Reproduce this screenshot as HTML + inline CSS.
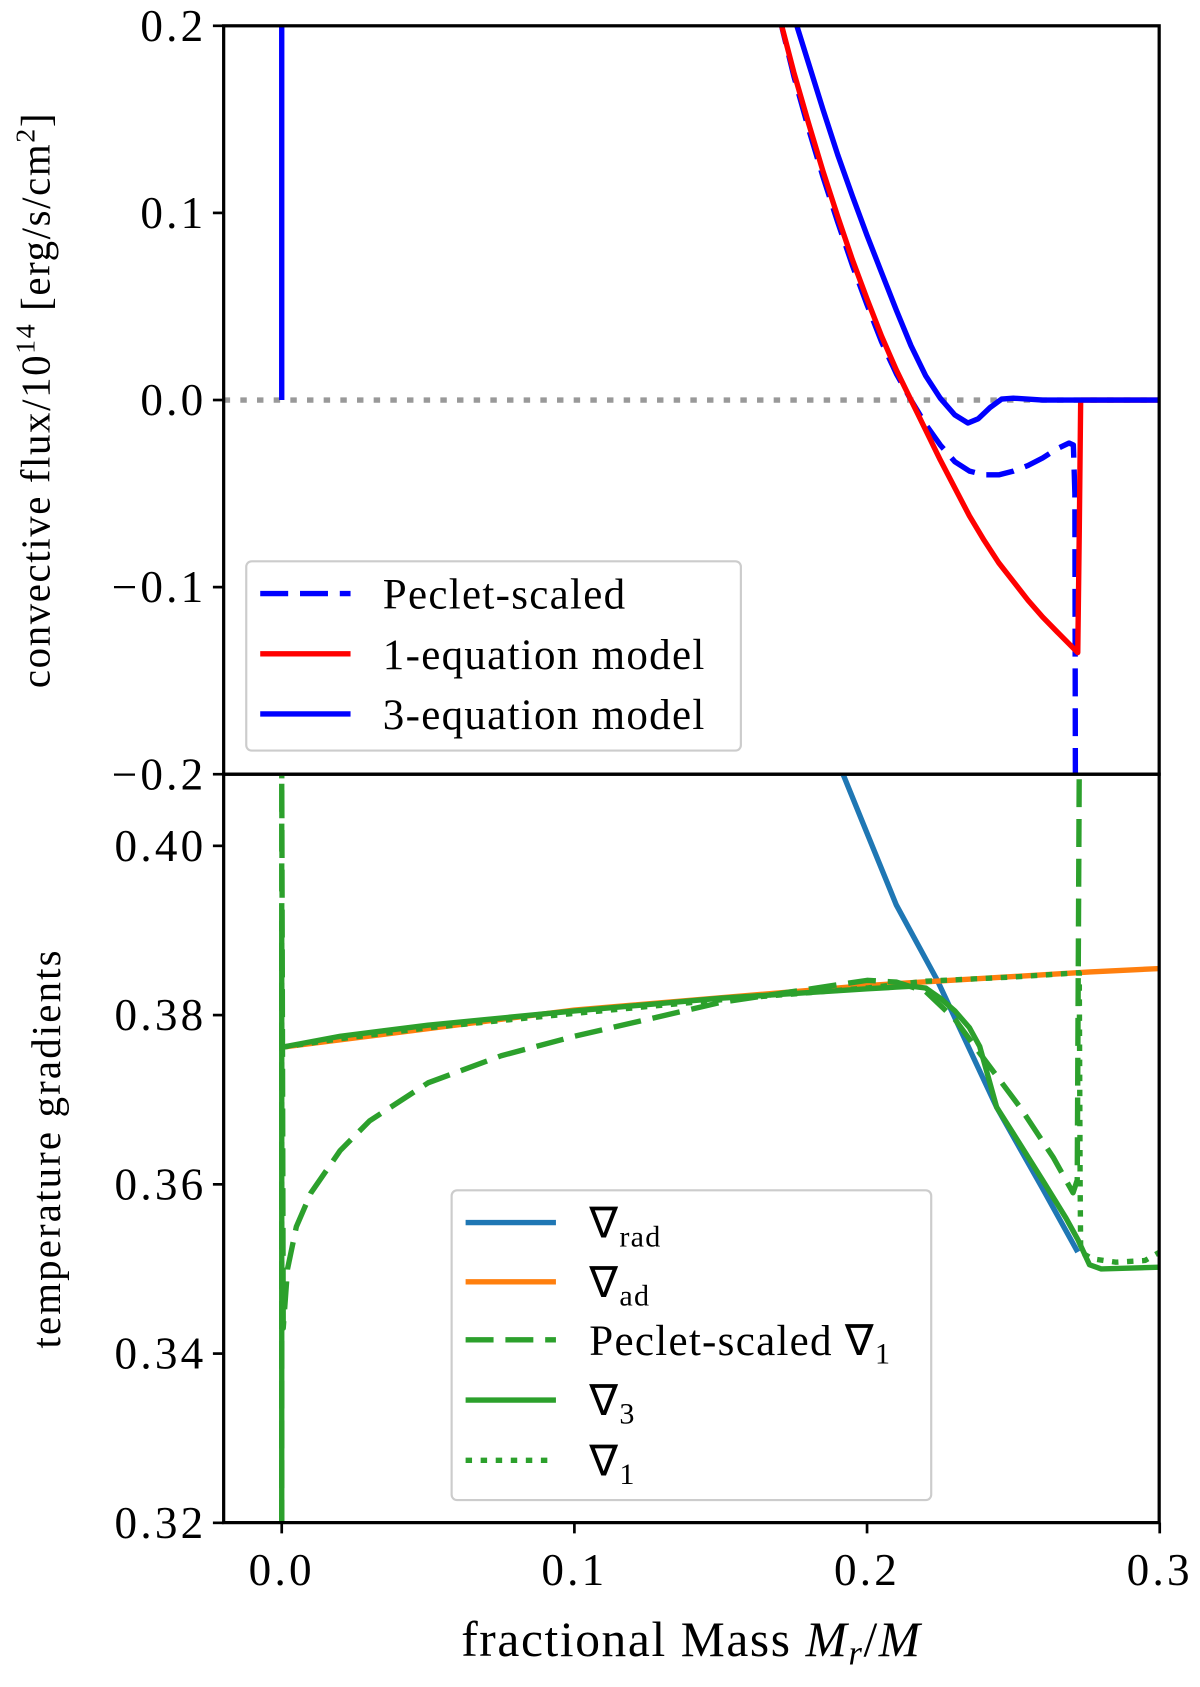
<!DOCTYPE html>
<html><head><meta charset="utf-8"><style>
body{margin:0;background:#fff;width:1200px;height:1687px;overflow:hidden}
#wrap{position:relative;width:1116px;height:1569px;transform:scale(1.0753);transform-origin:0 0}
svg text{font-family:"Liberation Serif",serif;fill:#000}
</style></head><body>
<div id="wrap">
<svg id="chart" width="1116" height="1569" xmlns="http://www.w3.org/2000/svg" style="position:absolute;left:0;top:0">
<defs>
<clipPath id="clipTop"><rect x="208" y="24" width="870" height="696"/></clipPath>
<clipPath id="clipBot"><rect x="208" y="720" width="870" height="696"/></clipPath>
</defs>
<g id="topPanel"></g>
<g id="botPanel"></g>
</svg>
<script>
// ---- data ----
const xTicks=[0.0,0.1,0.2,0.3];
const xTickLabels=["0.0","0.1","0.2","0.3"];
const topTicks=[0.2,0.1,0.0,-0.1,-0.2];
const topTickLabels=["0.2","0.1","0.0","\u22120.1","\u22120.2"];
const botTicks=[0.40,0.38,0.36,0.34,0.32];
const botTickLabels=["0.40","0.38","0.36","0.34","0.32"];
// top panel series
const oneEqX=[0.17,0.175,0.18,0.185,0.19,0.195,0.2,0.205,0.21,0.215,0.22,0.225,0.23,0.235,0.24,0.245,0.25,0.255,0.26,0.265,0.272,0.2725,0.273,0.28,0.3];
const oneEqY=[0.205,0.175,0.148,0.122,0.098,0.075,0.054,0.034,0.016,0.0,-0.016,-0.032,-0.047,-0.062,-0.075,-0.087,-0.097,-0.107,-0.116,-0.124,-0.135,-0.07,0.0,0.0,0.0];
const threeEqSpikeX=[0.0,0.0];
const threeEqSpikeY=[0.25,0.0];
const threeEqX=[0.174,0.18,0.185,0.19,0.195,0.2,0.205,0.21,0.215,0.22,0.225,0.23,0.2345,0.238,0.242,0.246,0.25,0.26,0.3];
const threeEqY=[0.21,0.18,0.155,0.131,0.109,0.088,0.068,0.048,0.029,0.013,0.001,-0.008,-0.0123,-0.01,-0.004,0.0005,0.001,0.0,0.0];
const pecletX=[0.17,0.175,0.18,0.185,0.19,0.195,0.2,0.205,0.21,0.215,0.22,0.225,0.23,0.235,0.24,0.245,0.25,0.255,0.26,0.265,0.269,0.2705,0.271,0.2712];
const pecletY=[0.205,0.173,0.145,0.119,0.095,0.072,0.051,0.031,0.014,0.0,-0.013,-0.024,-0.033,-0.038,-0.040,-0.040,-0.038,-0.035,-0.031,-0.026,-0.023,-0.024,-0.05,-0.21];
// bottom panel series
const radX=[0.190,0.2,0.21,0.224,0.2443,0.26,0.272];
const radY=[0.410,0.4015,0.393,0.3841,0.3691,0.3595,0.352];
const adX=[0.0,0.1,0.2,0.2137,0.2762,0.3];
const adY=[0.3762,0.3806,0.3835,0.3838,0.3851,0.3855];
const pec1X=[0.0,0.0,0.0005,0.002,0.005,0.01,0.02,0.03,0.05,0.075,0.1,0.15,0.2,0.21,0.22,0.23,0.2385,0.2523,0.2636,0.2704,0.2718,0.2725];
const pec1Y=[0.31,0.41,0.343,0.350,0.355,0.359,0.364,0.3675,0.372,0.3752,0.3775,0.3815,0.3841,0.3839,0.3828,0.3795,0.3755,0.3691,0.3632,0.359,0.3605,0.41];
const nab3X=[0.0,0.0,0.0,0.02,0.05,0.1,0.15,0.2,0.21,0.215,0.22,0.225,0.23,0.235,0.2385,0.2443,0.25,0.26,0.268,0.272,0.276,0.28,0.3];
const nab3Y=[0.31,0.391,0.3762,0.3775,0.3788,0.3805,0.382,0.3831,0.3833,0.3834,0.3832,0.382,0.3805,0.3785,0.3763,0.3691,0.366,0.3605,0.356,0.3535,0.3505,0.3500,0.3502];
const nab1X=[0.0,0.02,0.05,0.1,0.15,0.2,0.21,0.22,0.25,0.2725,0.2728,0.273,0.277,0.285,0.295,0.3];
const nab1Y=[0.3762,0.3772,0.3785,0.3802,0.3818,0.3832,0.3836,0.3840,0.3845,0.3850,0.36,0.352,0.3512,0.3508,0.351,0.352];

// ---- axes ----
const AXL=208,AXR=1078;
function sx(v){return 262+v*2721.7;}
function syT(v){return 372-v*1740;}
function syB(v){return 944-(v-0.38)*7870;}
const SVGNS="http://www.w3.org/2000/svg";
function mk(tag,attrs,parent){const e=document.createElementNS(SVGNS,tag);for(const k in attrs)e.setAttribute(k,attrs[k]);parent.appendChild(e);return e;}
const gTop=document.getElementById('topPanel'),gBot=document.getElementById('botPanel');

function drawLine(parent,xs,ys,fy,color,w,dash,clip,name){
  const d=xs.map((x,i)=>(i?'L':'M')+sx(x).toFixed(1)+' '+fy(ys[i]).toFixed(1)).join(' ');
  const p=mk('path',{d:d,fill:'none',stroke:color,'stroke-width':w,'stroke-dasharray':dash||'none','clip-path':'url(#'+clip+')','stroke-linejoin':'round'},parent);
  
  
}

mk('line',{x1:AXL,x2:AXR,y1:syT(0),y2:syT(0),stroke:'#999','stroke-width':5,'stroke-dasharray':'6 9.5','clip-path':'url(#clipTop)'},gTop);
drawLine(gTop,pecletX,pecletY,syT,'#0000ff',5,'26 11','clipTop','peclet-scaled-line');
drawLine(gTop,oneEqX,oneEqY,syT,'#ff0000',5,null,'clipTop','one-equation-line');
drawLine(gTop,threeEqSpikeX,threeEqSpikeY,syT,'#0000ff',5,null,'clipTop','three-equation-spike');
drawLine(gTop,threeEqX,threeEqY,syT,'#0000ff',5,null,'clipTop','three-equation-line');
drawLine(gBot,radX,radY,syB,'#1f77b4',5,null,'clipBot','nabla-rad-line');
drawLine(gBot,adX,adY,syB,'#ff7f0e',5,null,'clipBot','nabla-ad-line');
drawLine(gBot,nab1X,nab1Y,syB,'#2ca02c',5,'6 8','clipBot','nabla-1-line');
drawLine(gBot,pec1X,pec1Y,syB,'#2ca02c',5,'26 11','clipBot','peclet-nabla-1-line');
drawLine(gBot,nab3X,nab3Y,syB,'#2ca02c',5,null,'clipBot','nabla-3-line');

mk('rect',{x:AXL,y:24,width:AXR-AXL,height:696,fill:'none',stroke:'#000','stroke-width':3},gTop);
mk('rect',{x:AXL,y:720,width:AXR-AXL,height:696,fill:'none',stroke:'#000','stroke-width':3},gBot);

topTicks.forEach((v,i)=>{const y=syT(v);
  mk('line',{x1:AXL-10,x2:AXL,y1:y,y2:y,stroke:'#000','stroke-width':2.5},gTop);
  const t=mk('text',{x:AXL-16,y:y+14,'text-anchor':'end','font-size':42,'letter-spacing':3},gTop);t.textContent=topTickLabels[i];
  
  
});
botTicks.forEach((v,i)=>{const y=syB(v);
  mk('line',{x1:AXL-10,x2:AXL,y1:y,y2:y,stroke:'#000','stroke-width':2.5},gBot);
  const t=mk('text',{x:AXL-16,y:y+14,'text-anchor':'end','font-size':42,'letter-spacing':3},gBot);t.textContent=botTickLabels[i];
  
  
});
xTicks.forEach((v,i)=>{const x=sx(v);
  mk('line',{x1:x,x2:x,y1:1416,y2:1426,stroke:'#000','stroke-width':2.5},gBot);
  const t=mk('text',{x:x,y:1474,'text-anchor':'middle','font-size':42,'letter-spacing':3},gBot);t.textContent=xTickLabels[i];
  
  
});
</script>
<svg style="position:absolute;left:0;top:0" width="1116" height="1569" xmlns="http://www.w3.org/2000/svg">
<text x="643" y="1540" text-anchor="middle" font-size="46" letter-spacing="1.5" font-family="Liberation Serif, serif">fractional Mass <tspan font-style="italic">M</tspan><tspan font-style="italic" font-size="32" dy="8">r</tspan><tspan dy="-8">/</tspan><tspan font-style="italic">M</tspan></text>
<text transform="translate(46,372) rotate(-90)" text-anchor="middle" font-size="38" letter-spacing="1.5" font-family="Liberation Serif, serif">convective flux/10<tspan font-size="26" dy="-14">14</tspan><tspan dy="14"> [erg/s/cm</tspan><tspan font-size="26" dy="-14">2</tspan><tspan dy="14">]</tspan></text>
<text transform="translate(56,1068) rotate(-90)" text-anchor="middle" font-size="38" letter-spacing="2" font-family="Liberation Serif, serif">temperature gradients</text>
<g font-family="Liberation Serif, serif" font-size="40" letter-spacing="1.2">
<rect x="229" y="522" width="460" height="176" rx="5" fill="#fff" fill-opacity="0.85" stroke="#ccc" stroke-width="2"/>
<line x1="242" x2="326" y1="552" y2="552" stroke="#0000ff" stroke-width="5" stroke-dasharray="26 11"/>
<text x="356" y="566">Peclet-scaled</text>
<line x1="242" x2="326" y1="608" y2="608" stroke="#ff0000" stroke-width="5"/>
<text x="356" y="622">1-equation model</text>
<line x1="242" x2="326" y1="664" y2="664" stroke="#0000ff" stroke-width="5"/>
<text x="356" y="678">3-equation model</text>
</g>
<g font-family="Liberation Serif, serif" font-size="40" letter-spacing="1.2">
<rect x="420" y="1107" width="446" height="288" rx="5" fill="#fff" fill-opacity="0.85" stroke="#ccc" stroke-width="2"/>
<line x1="433" x2="517" y1="1137" y2="1137" stroke="#1f77b4" stroke-width="5"/>
<text x="548" y="1151">∇<tspan font-size="28" dy="8">rad</tspan></text>
<line x1="433" x2="517" y1="1192" y2="1192" stroke="#ff7f0e" stroke-width="5"/>
<text x="548" y="1206">∇<tspan font-size="28" dy="8">ad</tspan></text>
<line x1="433" x2="517" y1="1246" y2="1246" stroke="#2ca02c" stroke-width="5" stroke-dasharray="26 11"/>
<text x="548" y="1260">Peclet-scaled ∇<tspan font-size="28" dy="8">1</tspan></text>
<line x1="433" x2="517" y1="1302" y2="1302" stroke="#2ca02c" stroke-width="5"/>
<text x="548" y="1316">∇<tspan font-size="28" dy="8">3</tspan></text>
<line x1="433" x2="517" y1="1358" y2="1358" stroke="#2ca02c" stroke-width="5" stroke-dasharray="6 8"/>
<text x="548" y="1372">∇<tspan font-size="28" dy="8">1</tspan></text>
</g>
</svg>
</div>
</body></html>
